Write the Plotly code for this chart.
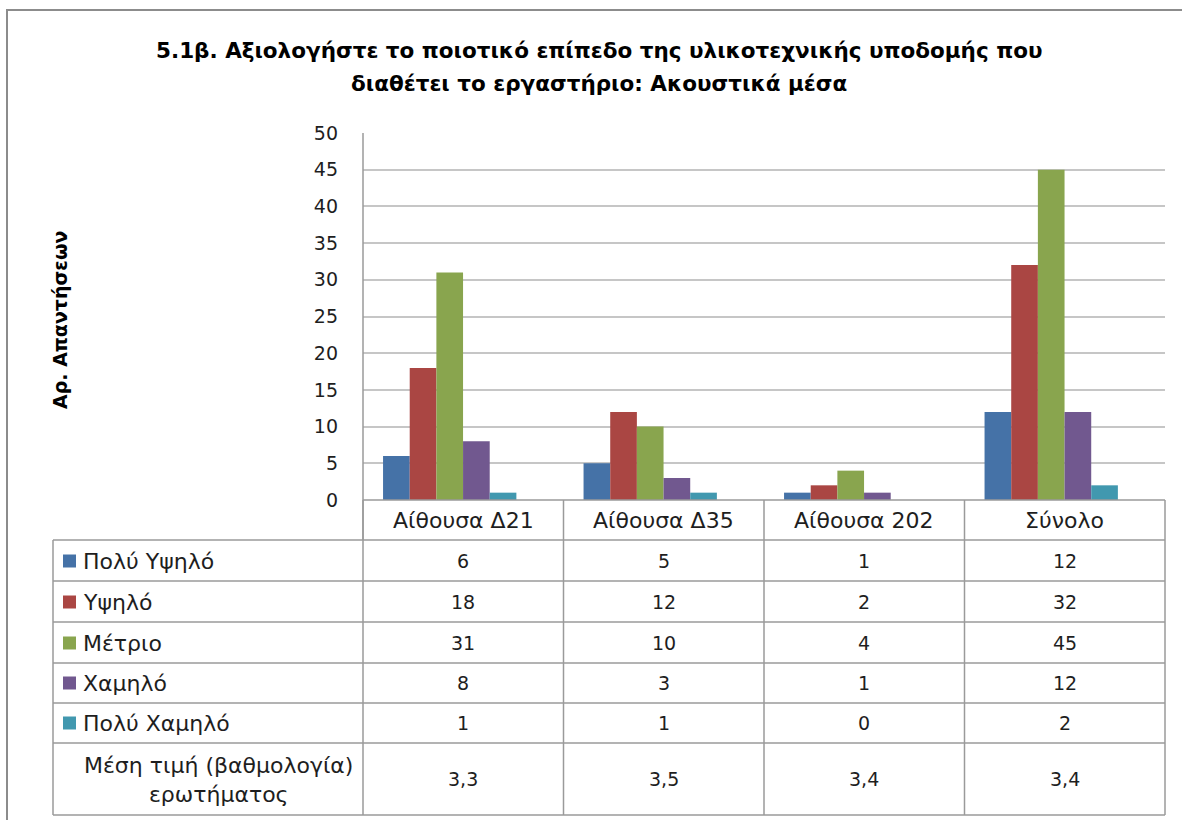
import plotly.graph_objects as go

categories = ["Αίθουσα Δ21", "Αίθουσα Δ35", "Αίθουσα 202", "Σύνολο"]
series_names = ["Πολύ Υψηλό", "Υψηλό", "Μέτριο", "Χαμηλό", "Πολύ Χαμηλό"]
very_high = [6, 5, 1, 12]
high = [18, 12, 2, 32]
medium = [31, 10, 4, 45]
low = [8, 3, 1, 12]
very_low = [1, 1, 0, 2]
mean_label = "Μέση τιμή (βαθμολογία)<br>ερωτήματος"
mean_values = ["3,3", "3,5", "3,4", "3,4"]
y_ticks = [0, 5, 10, 15, 20, 25, 30, 35, 40, 45, 50]
title_lines = ["5.1β. Αξιολογήστε το ποιοτικό επίπεδο της υλικοτεχνικής υποδομής που",
               "διαθέτει το εργαστήριο: Ακουστικά μέσα"]
y_title = "<b>Αρ. Απαντήσεων</b>"

series_values = [very_high, high, medium, low, very_low]
colors = ["#4572A7", "#AA4643", "#89A54E", "#71588F", "#4198AF"]

W, H = 1182, 820
PL, PR, PT, PB = 363, 1165, 133, 500
FONT = "DejaVu Sans"
TXT = "#1e1e1e"
GRID = "#C6C6C6"
LINE = "#9A9A9A"
FS = 19      # numbers
FST = 22     # text labels


def xp(px):
    return (px - PL) / (PR - PL)


def yp(py):
    return (PB - py) / (PB - PT)


fig = go.Figure()
bw = 0.133
for i, (name, vals, col) in enumerate(zip(series_names, series_values, colors)):
    fig.add_trace(go.Bar(
        x=categories, y=vals, name=name, marker=dict(color=col, line=dict(width=0)),
        width=bw, offset=-0.4 + i * bw, showlegend=False,
    ))

shapes = []
# outer frame
shapes.append(dict(type="rect", xref="paper", yref="paper", x0=xp(7), x1=xp(1195), y0=yp(10), y1=yp(835),
                   line=dict(color="#8C8C8C", width=2), fillcolor="rgba(0,0,0,0)", layer="below"))
# left axis line extended into category row
shapes.append(dict(type="line", xref="paper", yref="paper", x0=0, x1=0, y0=yp(PT), y1=yp(540),
                   line=dict(color=LINE, width=1.5)))
# row lines
row_lines = [540, 581, 622, 663, 703, 743, 815]
shapes.append(dict(type="line", xref="paper", yref="paper", x0=0, x1=1, y0=yp(500), y1=yp(500),
                   line=dict(color=LINE, width=1.5)))
for ry in row_lines:
    shapes.append(dict(type="line", xref="paper", yref="paper", x0=xp(53), x1=1, y0=yp(ry), y1=yp(ry),
                       line=dict(color=LINE, width=1.5)))
# vertical lines
for k in range(len(categories) + 1):
    vx = k / len(categories)
    shapes.append(dict(type="line", xref="paper", yref="paper", x0=vx, x1=vx, y0=yp(500), y1=yp(815),
                       line=dict(color=LINE, width=1.5)))
shapes.append(dict(type="line", xref="paper", yref="paper", x0=xp(53), x1=xp(53), y0=yp(540), y1=yp(815),
                   line=dict(color=LINE, width=1.5)))

annotations = []
row_centers = [561, 602, 643, 683, 723]
for r, (name, vals, col) in enumerate(zip(series_names, series_values, colors)):
    cy = row_centers[r]
    shapes.append(dict(type="rect", xref="paper", yref="paper", x0=xp(63), x1=xp(76), y0=yp(cy - 6.5),
                       y1=yp(cy + 6.5), fillcolor=col, line=dict(width=0)))
    annotations.append(dict(xref="paper", yref="paper", x=xp(81), y=yp(cy), text=name, showarrow=False,
                            xanchor="left", yanchor="middle", font=dict(family=FONT, size=FST, color=TXT)))
    for c, v in zip(categories, vals):
        annotations.append(dict(xref="x", yref="paper", x=c, y=yp(cy), text=str(v), showarrow=False,
                                xanchor="center", yanchor="middle", font=dict(family=FONT, size=FS, color=TXT)))
annotations.append(dict(xref="paper", yref="paper", x=xp(218), y=yp(780), text=mean_label, showarrow=False,
                        xanchor="center", yanchor="middle", align="center",
                        font=dict(family=FONT, size=FST, color=TXT)))
for c, v in zip(categories, mean_values):
    annotations.append(dict(xref="x", yref="paper", x=c, y=yp(779), text=v, showarrow=False,
                            xanchor="center", yanchor="middle", font=dict(family=FONT, size=FS, color=TXT)))
for c in categories:
    annotations.append(dict(xref="x", yref="paper", x=c, y=yp(520), text=c, showarrow=False,
                            xanchor="center", yanchor="middle", font=dict(family=FONT, size=FST, color=TXT)))
# title (two lines)
for ty, line in zip([50, 84], title_lines):
    annotations.append(dict(xref="paper", yref="paper", x=xp(599), y=yp(ty), text="<b>" + line + "</b>",
                            showarrow=False, xanchor="center", yanchor="middle", align="center",
                            font=dict(family=FONT, size=21.5, color="#000000")))
# y title
annotations.append(dict(xref="paper", yref="paper", x=xp(60), y=yp(320), text=y_title, showarrow=False,
                        xanchor="center", yanchor="middle", textangle=-90,
                        font=dict(family=FONT, size=19, color="#000000")))

fig.update_layout(
    width=W, height=H,
    margin=dict(l=PL, r=W - PR, t=PT, b=H - PB, pad=0),
    paper_bgcolor="white", plot_bgcolor="white",
    barmode="overlay",
    shapes=shapes, annotations=annotations,
    xaxis=dict(type="category", showticklabels=False, showgrid=False, zeroline=False, showline=False,
               range=[-0.5, len(categories) - 0.5]),
    yaxis=dict(range=[0, 50], tickvals=y_ticks, showgrid=True, gridcolor=GRID, gridwidth=1.5,
               zeroline=False, showline=False, ticks="", ticklabelstandoff=24,
               tickfont=dict(family=FONT, size=FS, color=TXT)),
)

fig.write_html("out.html", config={"displayModeBar": False},
               post_script="document.body.style.margin='0';document.body.style.overflow='hidden';")
